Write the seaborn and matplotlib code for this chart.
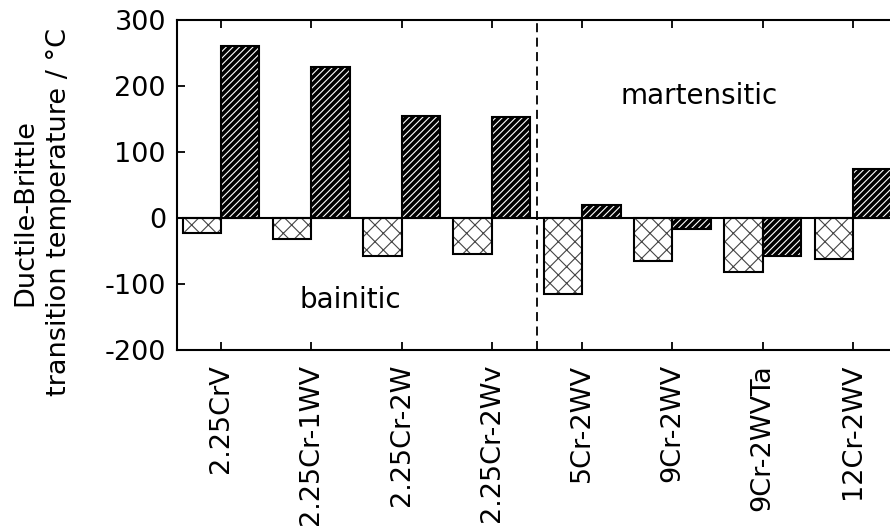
import numpy as np
import pandas as pd
import matplotlib
matplotlib.use("Agg")
import matplotlib.pyplot as plt
from matplotlib.patches import Rectangle
import seaborn as sns

# values
alloys = ['2.25CrV', '2.25Cr-1WV', '2.25Cr-2W', '2.25Cr-2Wv',
          '5Cr-2WV', '9Cr-2WV', '9Cr-2WVTa', '12Cr-2WV']
light_vals = [-22, -32, -58, -54, -115, -65, -82, -62]
dark_vals = [260, 229, 155, 153, 19, -17, -57, 75]
series = ['light', 'dark']
yticks = [-200, -100, 0, 100, 200, 300]

df = pd.DataFrame({
    'alloy': alloys * 2,
    'dbtt': light_vals + dark_vals,
    'series': [series[0]] * len(alloys) + [series[1]] * len(alloys),
})

sns.set_style("ticks")
plt.rcParams['font.family'] = ['DejaVu Sans']
plt.rcParams['axes.unicode_minus'] = False
plt.rcParams['hatch.linewidth'] = 0.8
for k in ['text.color', 'axes.labelcolor', 'xtick.color', 'ytick.color', 'axes.edgecolor']:
    plt.rcParams[k] = 'black'

fig = plt.figure(figsize=(8.9, 5.3), dpi=100)
ax = fig.add_axes([177/890, 1 - 350/530, 720/890, 330/530])

sns.barplot(data=df, x='alloy', y='dbtt', hue='series', order=alloys,
            hue_order=series, palette={'light': 'white', 'dark': 'black'},
            width=0.85, gap=0, legend=False, ax=ax, zorder=2)

# hatch in a contrasting colour, then redraw the outline on top
for cont, hatch, hcol in zip(ax.containers, ['xx', '/////'], ['#444444', 'white']):
    for bar in cont:
        bar.set_hatch(hatch)
        bar.set_edgecolor(hcol)
        bar.set_linewidth(0)
        ax.add_patch(Rectangle(bar.get_xy(), bar.get_width(), bar.get_height(),
                               fill=False, edgecolor='black', lw=1.5, zorder=3))

ax.axhline(0, color='black', lw=1.5, zorder=4)
ax.axvline(3.5, color='black', lw=1.3, ls=(0, (5, 3)), zorder=4)

ax.text(1.43, -136, 'bainitic', fontsize=20, ha='center', va='baseline')
ax.text(5.30, 172, 'martensitic', fontsize=20, ha='center', va='baseline')

ax.set_xlim(-0.487, 7.487)
ax.set_ylim(-200, 300)
ax.set_yticks(yticks)
ax.set_xlabel('')
ax.set_ylabel('Ductile-Brittle\ntransition temperature / °C', fontsize=19.5,
              linespacing=1.4, va='center', rotation_mode='default')
ax.yaxis.set_label_coords((42 - 177) / 720, (350 - 212) / 330)

ax.tick_params(axis='both', direction='in', length=6, width=1.3,
               labelsize=19.5, top=True, right=False)
ax.tick_params(axis='x', pad=10, labelrotation=90)
ax.tick_params(axis='y', pad=8)
for s in ax.spines.values():
    s.set_linewidth(1.5)

fig.savefig('out.png', dpi=100)
